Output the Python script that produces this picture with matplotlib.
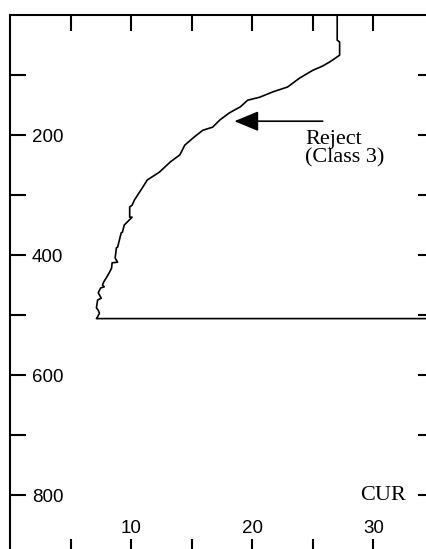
import matplotlib
matplotlib.use("Agg")
import matplotlib.pyplot as plt

# Curve: CUR value against depth (depth increases downward)
cur = [27.0, 27.0, 27.2, 27.2, 26.4, 25.8, 25.0, 23.9, 22.9, 21.7, 20.6, 19.6,
       19.0, 18.1, 17.3, 16.7, 15.9, 15.2, 14.4, 14.0, 13.2, 12.3, 11.3, 10.9,
       10.25, 10.05, 9.85, 9.85, 10.05, 9.65, 9.4, 9.25, 9.15, 9.0, 8.85, 8.75,
       8.65, 8.85, 8.4, 8.35, 8.15, 7.95, 7.7, 7.6, 7.75, 7.45, 7.25, 7.5,
       7.2, 7.1, 7.25, 7.35, 7.2, 7.1, 36.0]
depth = [0, 42, 45, 67, 78, 85, 92, 105, 120, 128, 137, 142,
         153, 163, 175, 187, 192, 203, 217, 233, 245, 262, 275, 288,
         308, 317, 320, 337, 337, 345, 350, 362, 363, 375, 387, 388,
         405, 412, 413, 422, 430, 437, 445, 450, 453, 455, 463, 472,
         475, 488, 492, 497, 503, 506, 506]

x_major = [10, 20, 30]
x_minor = [5, 15, 25]
y_major = [200, 400, 600, 800]
y_minor = [100, 300, 500, 700]

# arrow pointing at the curve, with its note
arrow_tail = (25.8, 177)
arrow_tip = (18.5, 177)
note_text = "Reject\n(Class 3)"
note_pos = (24.35, 192)

fig = plt.figure(figsize=(4.27, 5.49), dpi=100)
ax = fig.add_axes([10.5 / 427, -6 / 549, 423.5 / 427, 540 / 549])

ax.plot(cur, depth, color="black", linewidth=1.2)

ax.annotate("", xy=arrow_tip, xytext=arrow_tail,
            arrowprops=dict(arrowstyle="-|>,head_length=1.5,head_width=0.62",
                            color="black", linewidth=1.2, mutation_scale=10,
                            shrinkA=0, shrinkB=0))
ax.text(note_pos[0], note_pos[1], note_text, ha="left", va="top",
        family="Liberation Serif", fontsize=16, linespacing=0.95)
ax.text(32.7, 800, "CUR", ha="right", va="center",
        family="Liberation Serif", fontsize=16)

ax.set_xlim(0, 35)
ax.set_ylim(900, 0)
ax.set_xticks(x_major)
ax.set_xticks(x_minor, minor=True)
ax.set_yticks(y_major)
ax.set_yticks(y_minor, minor=True)

for s in ax.spines.values():
    s.set_linewidth(1.5)

ax.tick_params(which="both", direction="in", length=11.5, width=1.5,
               top=True, right=True, bottom=True, left=True)
ax.tick_params(axis="y", pad=-15.5, labelsize=13.5)
ax.tick_params(axis="x", pad=-15.8, labelsize=13.5)
for lbl in ax.get_yticklabels():
    lbl.set_ha("left")
    lbl.set_family("Liberation Sans")
for lbl in ax.get_xticklabels():
    lbl.set_va("baseline")
    lbl.set_family("Liberation Sans")

fig.savefig("out.png", dpi=100)
